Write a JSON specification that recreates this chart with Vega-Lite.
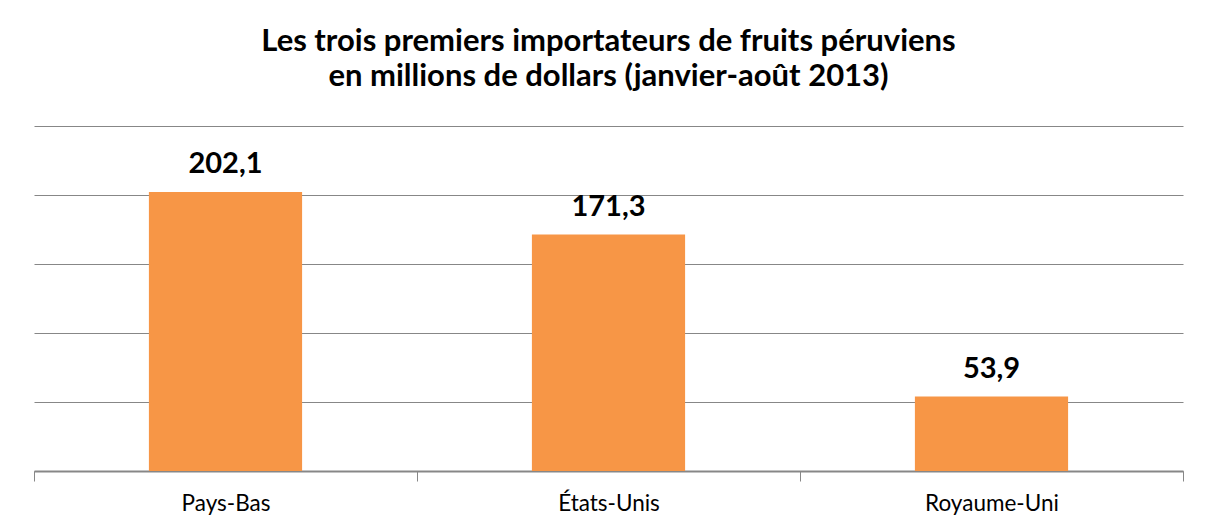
{
  "$schema": "https://vega.github.io/schema/vega-lite/v6.json",
  "width": 1149,
  "height": 345,
  "autosize": {"type": "none"},
  "padding": {"left": 34, "top": 126, "right": 28, "bottom": 61},
  "background": "white",
  "config": {
    "locale": {"number": {"decimal": ",", "thousands": " ", "grouping": [3], "currency": ["", " €"]}},
    "view": {"stroke": null},
    "font": "Lato"
  },
  "title": {
    "text": ["Les trois premiers importateurs de fruits péruviens", "en millions de dollars (janvier-août 2013)"],
    "font": "Lato",
    "fontSize": 31,
    "fontWeight": "bold",
    "color": "black",
    "lineHeight": 35,
    "anchor": "middle",
    "offset": 33
  },
  "data": {
    "values": [
      {"pays": "Pays-Bas", "valeur": 202.1},
      {"pays": "États-Unis", "valeur": 171.3},
      {"pays": "Royaume-Uni", "valeur": 53.9}
    ]
  },
  "encoding": {
    "x": {
      "field": "pays",
      "type": "nominal",
      "sort": null,
      "scale": {"paddingInner": 0, "paddingOuter": 0},
      "axis": {
        "title": null,
        "labelAngle": 0,
        "labelFont": "Lato",
        "labelFontSize": 22.5,
        "labelColor": "black",
        "labelPadding": 11,
        "domainColor": "#878787",
        "domainWidth": 2,
        "tickColor": "#878787",
        "tickWidth": 1,
        "tickSize": 10,
        "tickBand": "extent"
      }
    },
    "y": {
      "field": "valeur",
      "type": "quantitative",
      "scale": {"domain": [0, 250], "nice": false},
      "axis": {
        "title": null,
        "labels": false,
        "ticks": false,
        "domain": false,
        "values": [0, 50, 100, 150, 200, 250],
        "gridColor": "#878787",
        "gridWidth": 1,
        "gridOpacity": 1
      }
    }
  },
  "layer": [
    {"mark": {"type": "bar", "color": "#F79646", "width": {"band": 0.4}}},
    {
      "mark": {"type": "text", "font": "Lato", "fontSize": 29, "fontWeight": "bold", "color": "black", "baseline": "alphabetic", "dy": -19},
      "encoding": {"text": {"field": "valeur", "type": "quantitative", "format": ".1f"}}
    }
  ]
}
